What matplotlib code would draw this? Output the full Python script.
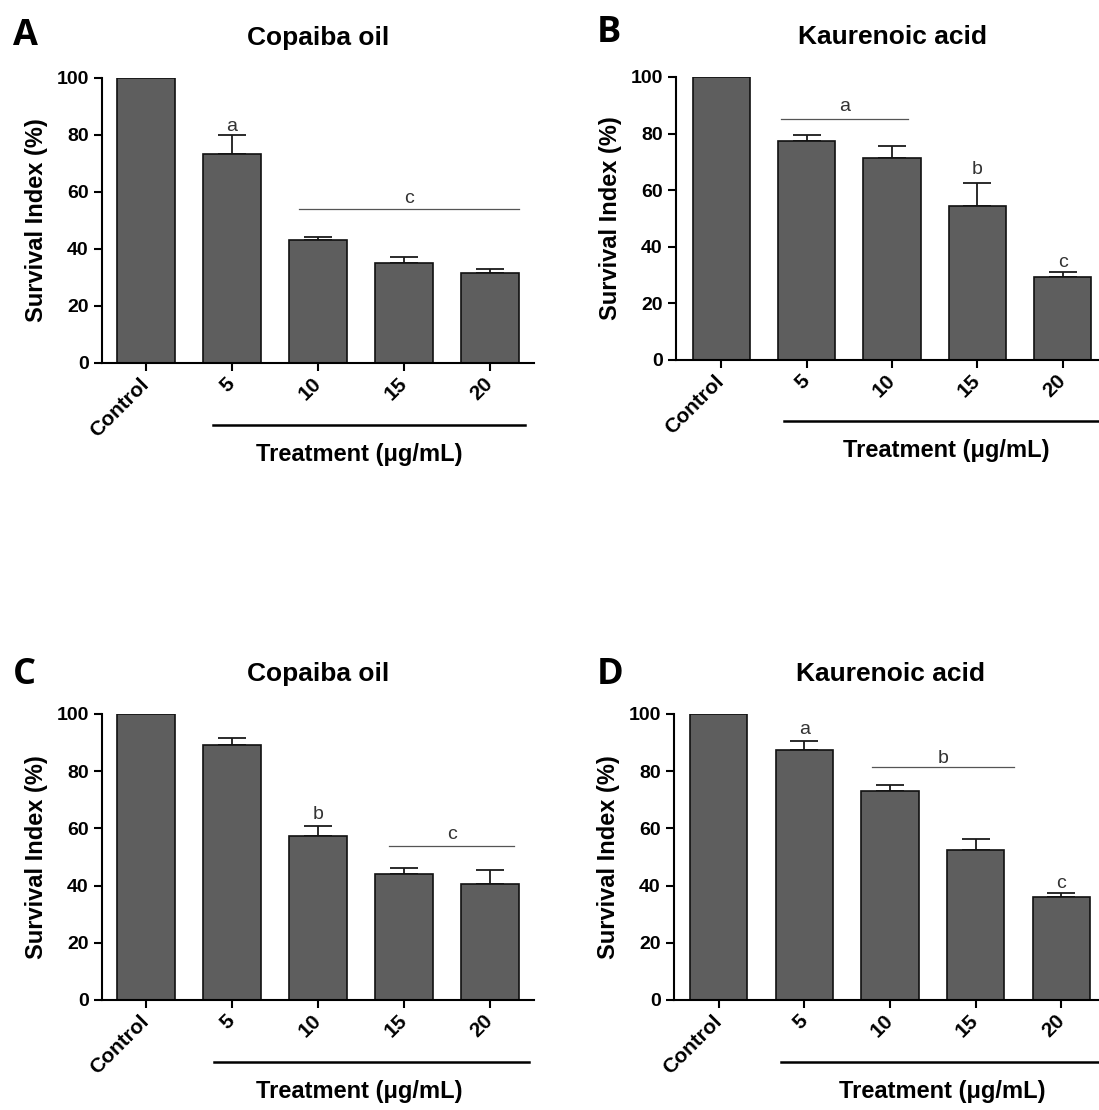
import numpy as np
from matplotlib import pyplot as plt
from matplotlib import transforms

plt.rcParams["font.family"] = ["Liberation Sans", "DejaVu Sans"]

categories = ["Control", "5", "10", "15", "20"]
yticks = [0, 20, 40, 60, 80, 100]
titles = ["Copaiba oil", "Kaurenoic acid", "Copaiba oil", "Kaurenoic acid"]
panel_labels = ["A", "B", "C", "D"]

survival_a = [100, 73.3, 43.3, 35.0, 31.4]
error_a = [0, 6.6, 0.9, 2.1, 1.6]
survival_b = [100, 77.4, 71.4, 54.5, 29.2]
error_b = [0, 2.1, 4.1, 8.0, 2.0]
survival_c = [100, 89.0, 57.5, 44.2, 40.4]
error_c = [0, 2.6, 3.5, 2.1, 5.2]
survival_d = [100, 87.5, 72.9, 52.6, 36.0]
error_d = [0, 3.0, 2.2, 3.8, 1.5]

# (x start, x end, line y, letter, letter baseline); start == end -> letter only
signif_a = [(1, 1, None, "a", 81.3), (1.78, 4.34, 54.0, "c", 56.1)]
signif_b = [(0.70, 2.19, 85.3, "a", 87.8), (3, 3, None, "b", 65.7), (4, 4, None, "c", 33.0)]
signif_c = [(2, 2, None, "b", 63.2), (2.83, 4.28, 54.0, "c", 56.2)]
signif_d = [(1, 1, None, "a", 92.9), (1.79, 3.45, 81.3, "b", 83.0), (4, 4, None, "c", 39.2)]

BAR_COLOR = "#5e5e5e"


def draw_panel(fig, rect, xlim, title, values, errors, signif, treat_line, treat_x):
    ax = fig.add_axes(rect)
    x = np.arange(len(categories))

    ax.bar(x, values, width=0.67, color=BAR_COLOR, edgecolor="#111111", linewidth=1.2, zorder=2)

    idx = [i for i, e in enumerate(errors) if e > 0]
    ax.errorbar(
        x[idx], np.array(values)[idx],
        yerr=[np.zeros(len(idx)), np.array(errors)[idx]],
        fmt="none", ecolor="#1a1a1a", elinewidth=1.3, capsize=10, capthick=1.3, zorder=1
    )

    for x0, x1, line_y, letter, text_y in signif:
        if line_y is not None:
            ax.plot([x0, x1], [line_y, line_y], color="#555555", linewidth=0.9, clip_on=False)
        ax.text((x0 + x1) / 2, text_y, letter, ha="center", va="baseline",
                fontsize=14, color="#333333")

    ax.set_xlim(*xlim)
    ax.set_ylim(0, 100)
    ax.set_yticks(yticks)
    ax.set_xticks(x)
    ax.set_xticklabels(categories, rotation=45, ha="right", va="center",
                       rotation_mode="anchor", fontweight="bold", fontsize=15)
    offset = transforms.ScaledTranslation(6 / 100, 0, fig.dpi_scale_trans)
    for label in ax.get_xticklabels():
        label.set_transform(label.get_transform() + offset)
    for label in ax.get_yticklabels():
        label.set_fontweight("bold")

    ax.tick_params(axis="both", direction="out", length=6, width=1.5, labelsize=14)
    ax.tick_params(axis="x", pad=7, labelsize=15)
    for side in ["top", "right"]:
        ax.spines[side].set_visible(False)
    for side in ["left", "bottom"]:
        ax.spines[side].set_linewidth(1.5)

    ax.set_ylabel("Survival Index (%)", fontsize=17, fontweight="bold")
    ax.yaxis.set_label_coords(-0.125, 0.5)
    ax.set_title(title, fontsize=19, fontweight="bold", pad=24)

    trans = transforms.blended_transform_factory(ax.transData, ax.transAxes)
    ax.plot(treat_line, [-0.217, -0.217], transform=trans, color="black",
            linewidth=1.8, clip_on=False)
    ax.text(treat_x, -0.32, "Treatment (μg/mL)", transform=ax.transAxes,
            ha="center", va="center", fontsize=17, fontweight="bold")
    return ax


fig = plt.figure(figsize=(10.99, 11.10), dpi=100)

draw_panel(fig, [0.0928, 0.6730, 0.3931, 0.2568], (-0.51, 4.51), titles[0],
           survival_a, error_a, signif_a, [0.78, 4.41], 0.595)
draw_panel(fig, [0.6151, 0.6757, 0.3931, 0.2550], (-0.53, 4.53), titles[1],
           survival_b, error_b, signif_b, [0.74, 4.6], 0.625)
draw_panel(fig, [0.0928, 0.0991, 0.3931, 0.2577], (-0.51, 4.51), titles[2],
           survival_c, error_c, signif_c, [0.79, 4.45], 0.595)
draw_panel(fig, [0.6133, 0.0991, 0.3931, 0.2577], (-0.52, 4.52), titles[3],
           survival_d, error_d, signif_d, [0.73, 4.6], 0.62)

letter_pos = [(0.012, 0.9595), (0.543, 0.962), (0.012, 0.384), (0.543, 0.384)]
for lab, (lx, ly) in zip(panel_labels, letter_pos):
    fig.text(lx, ly, lab, fontsize=26, fontweight="bold", family="Open Sans", va="baseline")

plt.savefig("out.png", dpi=100)
